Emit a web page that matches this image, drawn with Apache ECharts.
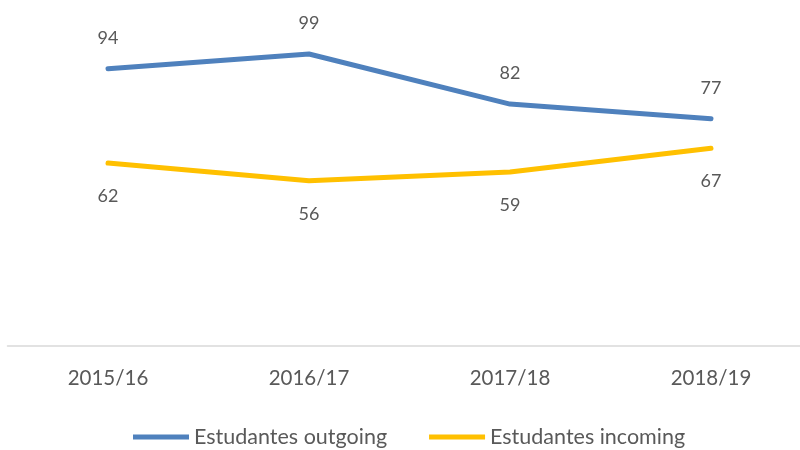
<!DOCTYPE html>
<html><head><meta charset="utf-8">
<script src="https://cdn.jsdelivr.net/npm/echarts@6/dist/echarts.min.js"></script>
<style>html,body{margin:0;padding:0;background:#fff;overflow:hidden}#c{width:812px;height:450px}</style>
</head><body><div id="c"></div>
<script>
const categories = ['2015/16', '2016/17', '2017/18', '2018/19'];
const outgoing = [94, 99, 82, 77];
const incoming = [62, 56, 59, 67];
const seriesNames = ['Estudantes outgoing', 'Estudantes incoming'];

const font = 'Lato';
const chart = echarts.init(document.getElementById('c'));
chart.setOption({
  animation: false,
  textStyle: { fontFamily: font },
  grid: { left: 7.5, top: 51, width: 804, height: 295, containLabel: false },
  legend: {
    top: 421, left: 128,
    itemWidth: 56, itemHeight: 5, itemGap: 42,
    textStyle: { color: '#595959', fontSize: 21.5, fontFamily: font },
    data: seriesNames.map(n => ({ name: n, icon: 'path://M0,0 L56,0 L56,5 L0,5 Z' }))
  },
  xAxis: {
    type: 'category', data: categories, boundaryGap: true,
    axisLine: { lineStyle: { color: '#d9d9d9', width: 1.5 } },
    axisTick: { show: false },
    axisLabel: { color: '#595959', fontSize: 20.5, margin: 22, fontFamily: font }
  },
  yAxis: { type: 'value', min: 0, max: 100, show: false, splitLine: { show: false } },
  series: [
    {
      name: seriesNames[0], type: 'line', data: outgoing,
      symbol: 'circle', symbolSize: 0, showSymbol: true,
      lineStyle: { color: '#4f81bd', width: 5, cap: 'round', join: 'round' },
      itemStyle: { color: '#4f81bd' },
      label: { show: true, position: 'top', distance: 22, color: '#595959', fontSize: 18, fontFamily: font }
    },
    {
      name: seriesNames[1], type: 'line', data: incoming,
      symbol: 'circle', symbolSize: 0, showSymbol: true,
      lineStyle: { color: '#ffc000', width: 5, cap: 'round', join: 'round' },
      itemStyle: { color: '#ffc000' },
      label: { show: true, position: 'bottom', distance: 24, color: '#595959', fontSize: 18, fontFamily: font }
    }
  ]
});
</script></body></html>
